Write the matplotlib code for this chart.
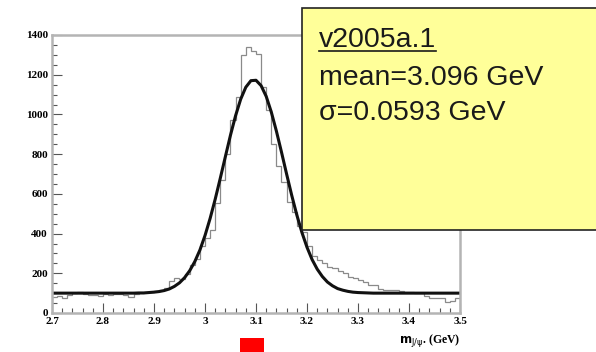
import numpy as np
import matplotlib
matplotlib.use("Agg")
import matplotlib.pyplot as plt
from matplotlib.patches import Rectangle
from matplotlib.lines import Line2D
from matplotlib.ticker import MultipleLocator

# histogram: 80 bins of 0.01 GeV from 2.70 to 3.50
bin_edges = np.linspace(2.7, 3.5, 81)
counts = [80, 85, 78, 92, 100, 105, 98, 90, 92, 88,
          95, 92, 98, 94, 92, 80, 98, 102, 108, 104,
          112, 115, 128, 160, 175, 170, 195, 240, 270, 335,
          380, 420, 555, 670, 800, 970, 1090, 1300, 1340, 1320,
          1305, 1140, 1020, 850, 740, 660, 560, 510, 440, 410,
          335, 285, 268, 250, 232, 226, 210, 200, 183, 176,
          166, 158, 141, 141, 120, 116, 116, 118, 110, 108,
          104, 102, 100, 85, 76, 78, 76, 57, 60, 76]

# fitted curve read at 0.01 GeV steps (2.70 ... 3.50)
fit_x = np.linspace(2.7, 3.5, 81)
fit_y = [100] * 17 + [101, 101, 103,
         105, 108, 113, 121, 134, 152, 178, 213, 259, 317,
         390, 476, 573, 679, 788, 896, 994, 1077, 1137, 1170,
         1172, 1145, 1091, 1012, 916, 810, 700, 593, 494, 406,
         331, 269, 221, 184, 156, 137, 123, 115, 109, 105,
         103, 102, 101] + [100] * 18

box_lines = ["v2005a.1", "mean=3.096 GeV", "\u03c3=0.0593 GeV"]

W, H = 596, 352
fig = plt.figure(figsize=(W / 100, H / 100), dpi=100)
ax = fig.add_axes([52 / W, 1 - 313 / H, 408 / W, 278 / H])

ax.stairs(counts, bin_edges, color="#8a8a8a", lw=0.9)
ax.plot(fit_x, fit_y, color="#111111", lw=2.2)

ax.set_xlim(2.7, 3.5)
ax.set_ylim(0, 1400)
ax.xaxis.set_major_locator(MultipleLocator(0.1))
ax.xaxis.set_minor_locator(MultipleLocator(0.02))
ax.yaxis.set_major_locator(MultipleLocator(200))
ax.yaxis.set_minor_locator(MultipleLocator(50))
ax.tick_params(which="both", direction="in", color="#555555", width=0.8,
               top=False, right=False)
ax.tick_params(which="major", length=7, pad=3)
ax.tick_params(which="minor", length=3.5)
ax.set_xticks(np.arange(2.7, 3.51, 0.1))
ax.set_xticklabels(["2.7", "2.8", "2.9", "3", "3.1", "3.2", "3.3", "3.4", "3.5"])
ax.set_yticks(np.arange(0, 1401, 200))
ax.set_yticklabels(["0", "200", "400", "600", "800", "1000", "1200", "1400"])
for lab in ax.get_xticklabels() + ax.get_yticklabels():
    lab.set_fontfamily("Liberation Serif")
    lab.set_fontweight("bold")
    lab.set_fontsize(8)
for sp in ax.spines.values():
    sp.set_color("#b4b4b4")
    sp.set_linewidth(1.8)

fig.text(460 / W, 1 - 340 / H, r"$\mathbf{m}_{\mathrm{J/\psi}}$. (GeV)", ha="right", va="center",
         fontsize=8.5, fontweight="bold", family="Liberation Serif")

# red marker under the peak
fig.patches.append(Rectangle((240 / W, 0), 24 / W, 14 / H, transform=fig.transFigure,
                             facecolor="#ff0000", edgecolor="none", zorder=5))

# yellow annotation box
fig.patches.append(Rectangle((302 / W, 1 - 230 / H), 0.6, 222 / H, transform=fig.transFigure,
                             facecolor="#ffff99", edgecolor="#222222", lw=1.2, zorder=5))
baselines = [47, 85, 120]
for txt, yb in zip(box_lines, baselines):
    fig.text(319 / W, 1 - yb / H, txt, ha="left", va="baseline", fontsize=20.5,
             family="Liberation Sans", color="#1a1a1a", zorder=6)
fig.add_artist(Line2D([319 / W, 436 / W], [1 - 51 / H, 1 - 51 / H], transform=fig.transFigure,
                      color="#1a1a1a", lw=1.2, zorder=6))

fig.savefig("out.png", dpi=100)
